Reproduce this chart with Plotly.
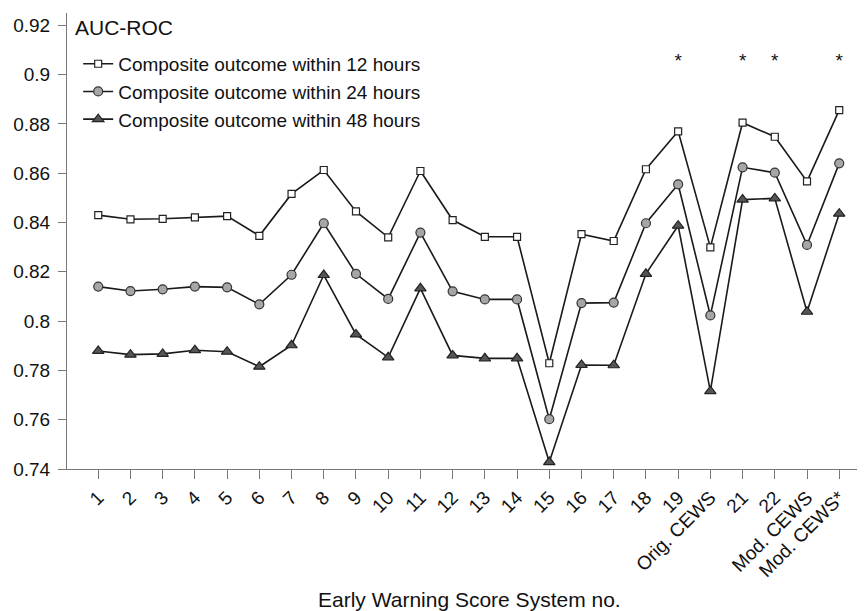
import plotly.graph_objects as go

categories = list(range(1, 25))
tick_labels = [str(i) for i in range(1, 20)] + ["Orig. CEWS", "21", "22", "Mod. CEWS", "Mod. CEWS*"]

auc_12h = [0.8430, 0.8413, 0.8415, 0.8421, 0.8426, 0.8346, 0.8516, 0.8613,
           0.8445, 0.8340, 0.8609, 0.8410, 0.8342, 0.8342, 0.7829, 0.8353,
           0.8325, 0.8616, 0.8770, 0.8299, 0.8805, 0.8748, 0.8567, 0.8856]
auc_24h = [0.8140, 0.8122, 0.8129, 0.8140, 0.8137, 0.8068, 0.8188, 0.8397,
           0.8192, 0.8090, 0.8359, 0.8121, 0.8088, 0.8088, 0.7602, 0.8073,
           0.8075, 0.8397, 0.8555, 0.8023, 0.8624, 0.8602, 0.8309, 0.8640]
auc_48h = [0.7879, 0.7864, 0.7867, 0.7882, 0.7876, 0.7815, 0.7902, 0.8187,
           0.7946, 0.7853, 0.8133, 0.7861, 0.7849, 0.7849, 0.7428, 0.7822,
           0.7821, 0.8192, 0.8387, 0.7716, 0.8493, 0.8498, 0.8038, 0.8436]

star_x = [19, 21, 22, 24]
star_y = [0.905, 0.905, 0.905, 0.905]

y_ticks = [0.74, 0.76, 0.78, 0.8, 0.82, 0.84, 0.86, 0.88, 0.9, 0.92]
y_tick_text = ["0.74", "0.76", "0.78", "0.8", "0.82", "0.84", "0.86", "0.88", "0.9", "0.92"]

FONT = "Liberation Sans, Arial, sans-serif"
LINE = dict(color="#1a1a1a", width=1.6)

fig = go.Figure()
fig.add_trace(go.Scatter(
    x=categories, y=auc_12h, mode="lines+markers",
    name="Composite outcome within 12 hours", line=LINE,
    marker=dict(symbol="square", size=7, color="white", line=dict(color="#222", width=1.2))))
fig.add_trace(go.Scatter(
    x=categories, y=auc_24h, mode="lines+markers",
    name="Composite outcome within 24 hours", line=LINE,
    marker=dict(symbol="circle", size=9, color="#a6a6a6", line=dict(color="#333", width=1.2))))
fig.add_trace(go.Scatter(
    x=categories, y=auc_48h, mode="lines+markers",
    name="Composite outcome within 48 hours", line=LINE,
    marker=dict(symbol="triangle-up", size=10, color="#555555", line=dict(color="#222", width=1.2))))
fig.add_trace(go.Scatter(
    x=star_x, y=star_y, mode="text", text=["*"] * len(star_x),
    textfont=dict(family=FONT, size=19, color="#111"), showlegend=False, hoverinfo="skip"))

fig.update_layout(
    width=857, height=603,
    margin=dict(l=59, r=0, t=5, b=142, autoexpand=False),
    paper_bgcolor="white", plot_bgcolor="white",
    font=dict(family=FONT, color="#111", size=19),
    showlegend=True,
    legend=dict(x=0.014, y=0.93, xanchor="left", yanchor="top",
                font=dict(family=FONT, size=19, color="#111"),
                bgcolor="rgba(0,0,0,0)", borderwidth=0, tracegroupgap=0),
    xaxis=dict(range=[0.03, 24.8], tickmode="array", tickvals=categories, ticktext=tick_labels,
               tickangle=-45, ticks="outside", ticklen=9, tickcolor="#777", tickwidth=1,
               showline=True, linecolor="#777", linewidth=1, showgrid=False, zeroline=False,
               automargin=False,
               tickfont=dict(family=FONT, size=19, color="#111")),
    yaxis=dict(range=[0.74, 0.925], tickmode="array", tickvals=y_ticks, ticktext=y_tick_text,
               ticks="outside", ticklen=8, tickcolor="#777", tickwidth=1, ticklabelstandoff=4,
               showline=True, linecolor="#777", linewidth=1, showgrid=False, zeroline=False,
               automargin=False,
               tickfont=dict(family=FONT, size=19, color="#111")),
    annotations=[
        dict(text="AUC-ROC", xref="paper", yref="paper", x=0.008, y=0.969,
             xanchor="left", yanchor="middle", showarrow=False,
             font=dict(family=FONT, size=21, color="#111")),
        dict(text="Early Warning Score System no.", xref="paper", yref="paper", x=0.505, y=-0.287,
             xanchor="center", yanchor="middle", showarrow=False,
             font=dict(family=FONT, size=21, color="#111")),
    ],
)

fig.write_html("out.html")
